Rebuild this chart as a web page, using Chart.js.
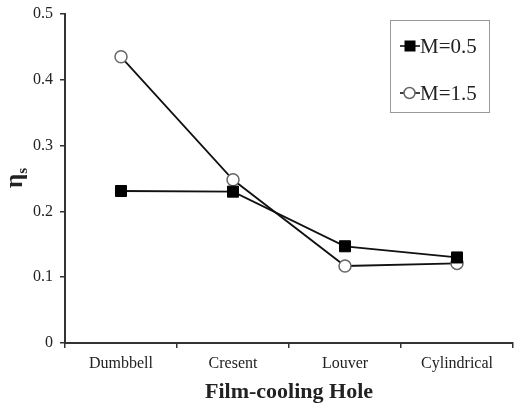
<!DOCTYPE html>
<html>
<head>
<meta charset="utf-8">
<script src="https://cdn.jsdelivr.net/npm/chart.js@4"></script>
<style>
html,body{margin:0;padding:0;background:#fff;}
#wrap{width:517px;height:404px;position:relative;}
</style>
</head>
<body>
<div id="wrap"><canvas id="c" width="517" height="404"></canvas></div>
<script>
const categories = ['Dumbbell', 'Cresent', 'Louver', 'Cylindrical'];
const seriesLabels = ['M=0.5', 'M=1.5'];
const m05 = [0.231, 0.230, 0.147, 0.130];
const m15 = [0.435, 0.248, 0.117, 0.121];
const yTicks = [0, 0.1, 0.2, 0.3, 0.4, 0.5];
const xTitle = 'Film-cooling Hole';
const yTitleMain = 'η';
const yTitleSub = 's';

const SERIF = '"Liberation Serif", "Times New Roman", "DejaVu Serif", serif';
const AXIS = '#333';
const TEXT = '#222';

const styles = [
  {pointStyle: 'rect', radius: 7.8, bg: '#000', border: '#000', bw: 1},
  {pointStyle: 'circle', radius: 6, bg: '#fff', border: '#666', bw: 1.5}
];

const yTitlePlugin = {
  id: 'yTitle',
  afterDraw(chart) {
    const ctx = chart.ctx;
    ctx.save();
    ctx.translate(20, 178);
    ctx.rotate(-Math.PI / 2);
    ctx.fillStyle = TEXT;
    ctx.textBaseline = 'alphabetic';
    ctx.font = 'bold 25px ' + SERIF;
    const w1 = ctx.measureText(yTitleMain).width;
    ctx.font = 'bold 15px ' + SERIF;
    const w2 = ctx.measureText(yTitleSub).width;
    const start = -(w1 + w2) / 2;
    ctx.font = 'bold 25px ' + SERIF;
    ctx.fillText(yTitleMain, start, 2);
    ctx.font = 'bold 15px ' + SERIF;
    ctx.fillText(yTitleSub, start + w1, 7);
    ctx.restore();
  }
};

const legendPlugin = {
  id: 'boxLegend',
  afterDraw(chart) {
    const ctx = chart.ctx;
    ctx.save();
    ctx.strokeStyle = '#999';
    ctx.lineWidth = 1;
    ctx.strokeRect(390.5, 20.5, 99, 92);
    const rows = [46, 93];
    chart.data.datasets.forEach((ds, i) => {
      const y = rows[i];
      const st = styles[i];
      ctx.strokeStyle = '#000';
      ctx.lineWidth = 1.5;
      ctx.beginPath();
      ctx.moveTo(400, y);
      ctx.lineTo(420, y);
      ctx.stroke();
      ctx.fillStyle = st.bg;
      ctx.strokeStyle = st.border;
      ctx.lineWidth = st.bw;
      if (st.pointStyle === 'rect') {
        ctx.fillRect(404.5, y - 5.5, 11, 11);
      } else {
        ctx.beginPath();
        ctx.arc(409.5, y, 5.5, 0, Math.PI * 2);
        ctx.fill();
        ctx.stroke();
      }
      ctx.fillStyle = TEXT;
      ctx.font = '21px ' + SERIF;
      ctx.textBaseline = 'middle';
      ctx.textAlign = 'left';
      ctx.fillText(ds.label, 420, y + 1);
    });
    ctx.restore();
  }
};

new Chart(document.getElementById('c'), {
  type: 'line',
  data: {
    labels: categories,
    datasets: [m05, m15].map((vals, i) => ({
      label: seriesLabels[i],
      data: vals,
      borderColor: '#111',
      borderWidth: 1.8,
      pointStyle: styles[i].pointStyle,
      pointRadius: styles[i].radius,
      pointBackgroundColor: styles[i].bg,
      pointBorderColor: styles[i].border,
      pointBorderWidth: styles[i].bw,
      tension: 0,
      fill: false,
      clip: false
    }))
  },
  options: {
    responsive: false,
    animation: false,
    layout: {autoPadding: false, padding: {top: 14, right: 4, left: 0, bottom: 0}},
    plugins: {legend: {display: false}, tooltip: {enabled: false}},
    scales: {
      x: {
        type: 'category',
        offset: true,
        grid: {offset: true, drawOnChartArea: false, drawTicks: true, tickLength: 5, color: AXIS, lineWidth: 1.5},
        border: {color: AXIS, width: 2},
        ticks: {color: TEXT, font: {family: SERIF, size: 16}, padding: 6, maxRotation: 0},
        title: {display: true, text: xTitle, color: TEXT, font: {family: SERIF, size: 22, weight: 'bold'}, padding: {top: 0, bottom: -2}},
        afterFit(scale) {
          scale.height = 61;
          scale.paddingLeft = 0; scale.paddingRight = 0;
          scale.paddingTop = 0; scale.paddingBottom = 0;
        }
      },
      y: {
        min: 0, max: 0.5,
        afterBuildTicks(scale) { scale.ticks = yTicks.map(v => ({value: v})); },
        grid: {drawOnChartArea: false, drawTicks: true, tickLength: 5, color: AXIS, lineWidth: 1.5},
        border: {color: AXIS, width: 2},
        ticks: {color: TEXT, font: {family: SERIF, size: 16}, padding: 7},
        afterFit(scale) {
          scale.width = 65;
          scale.paddingLeft = 0; scale.paddingRight = 0;
          scale.paddingTop = 0; scale.paddingBottom = 0;
        }
      }
    }
  },
  plugins: [yTitlePlugin, legendPlugin]
});
</script>
</body>
</html>
